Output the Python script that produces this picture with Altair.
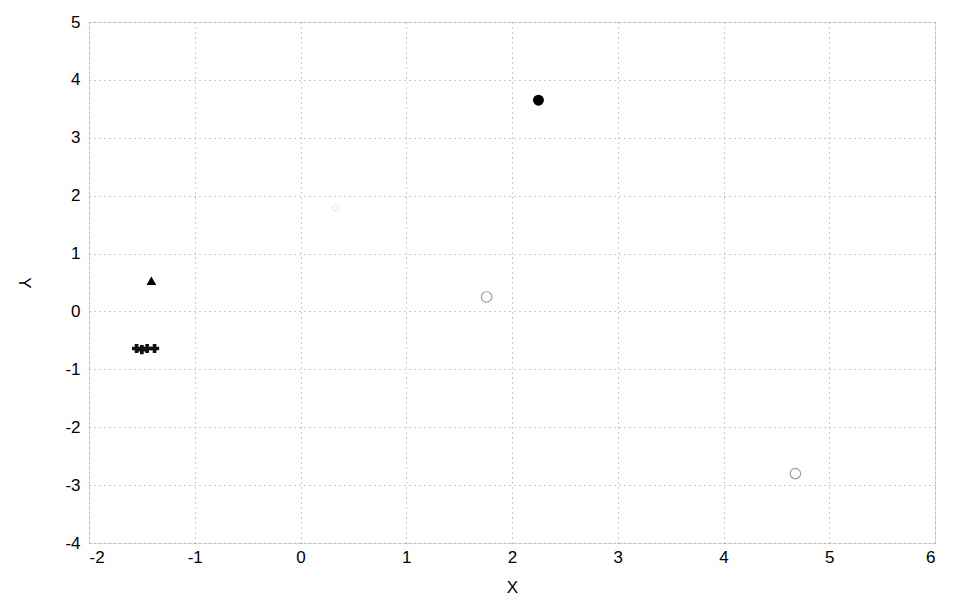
import altair as alt
import pandas as pd

# filled circle
fc_x = [2.25]
fc_y = [3.65]
# open circles
oc_x = [1.76, 4.68]
oc_y = [0.25, -2.8]
# faint point
fp_x = [0.33]
fp_y = [1.79]
# triangle
tr_x = [-1.41]
tr_y = [0.53]
# crosses
cr_x = [-1.55, -1.50, -1.45, -1.38]
cr_y = [-0.64, -0.66, -0.64, -0.64]

x_ticks = [-2, -1, 0, 1, 2, 3, 4, 5, 6]
y_ticks = [-4, -3, -2, -1, 0, 1, 2, 3, 4, 5]

xs = alt.Scale(domain=[-2, 6], nice=False, zero=False)
ys = alt.Scale(domain=[-4, 5], nice=False, zero=False)

common = dict(grid=True, gridDash=[1, 4], gridColor="#999", domain=False, ticks=False,
              labelFontSize=17, labelFont="Liberation Sans", labelColor="#000",
              labelExpr="'' + datum.value",
              titleFontSize=17, titleFont="Liberation Sans", titleFontWeight="normal",
              titleColor="#000")

xax = alt.Axis(values=x_ticks, title="X", labelPadding=6, titlePadding=14, **common)
yax = alt.Axis(values=y_ticks, title="Y", labelPadding=9, titleAngle=90, titlePadding=50, **common)


def ch(xv, yv):
    return alt.Chart(pd.DataFrame({"x": xv, "y": yv}))


enc = dict(x=alt.X("x:Q", scale=xs, axis=xax), y=alt.Y("y:Q", scale=ys, axis=yax))

c1 = ch(fc_x, fc_y).mark_point(shape="circle", filled=True, color="#000", size=120, opacity=1).encode(**enc)
c2 = ch(oc_x, oc_y).mark_point(shape="circle", filled=False, color="#777", size=110, strokeWidth=1.2).encode(**enc)
c3 = ch(fp_x, fp_y).mark_point(shape="circle", filled=False, color="#ddd", size=40, strokeWidth=1).encode(**enc)
c4 = ch(tr_x, tr_y).mark_point(shape="triangle-up", filled=True, color="#000", size=95, opacity=1).encode(**enc)
c5 = ch(cr_x, cr_y).mark_point(shape="cross", filled=True, color="#111", size=85, opacity=1).encode(**enc)

chart = alt.layer(c1, c2, c3, c4, c5).properties(
    width=846, height=521,
    autosize=alt.AutoSizeParams(type="none"),
    padding={"left": 81, "top": 14, "right": 30, "bottom": 60},
).configure_view(stroke="#444", strokeWidth=1).configure(background="white")

chart.save("out.html", embed_options={"renderer": "svg", "actions": False})
